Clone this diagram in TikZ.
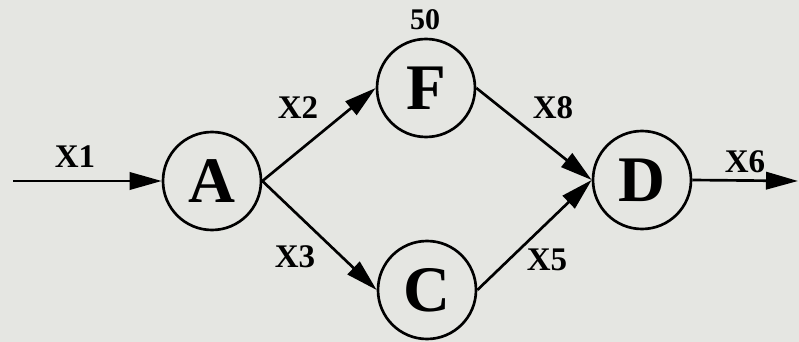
\documentclass[tikz,border=0pt]{standalone}
\usepackage{fontspec}
\setmainfont{Liberation Serif}
\usetikzlibrary{arrows.meta}
\definecolor{paper}{RGB}{229,230,226}
\tikzset{
  unit/.style={circle, draw, line width=2pt, minimum size=73.5pt, inner sep=0pt,
    font=\fontsize{48.75}{50}\selectfont\bfseries},
  flow/.style={line width=2pt, -{Triangle[length=24pt, width=13pt]}},
  tag/.style={inner sep=0pt, font=\fontsize{24.75}{26}\selectfont\bfseries},
  val/.style={inner sep=0pt, font=\fontsize{22.5}{24}\selectfont\bfseries}
}
\begin{document}
\begin{tikzpicture}[x=0.75pt, y=-0.75pt]
  % canvas
  \fill[paper] (0,0) rectangle (799,342);
  \useasboundingbox (0,0) rectangle (799,342);

  % processing units
  \node[unit] (A) at (212,181) {A};
  \node[unit] (F) at (426,88) {F};
  \node[unit] (C) at (427,290) {C};
  \node[unit] (D) at (642,180) {D};

  % free ends of the input and output streams
  \coordinate (in) at (13,181);
  \coordinate (out) at (798,181);

  % streams
  \draw[flow] (in) -- (A.west);
  \draw[flow] (A.east) -- (F.west);
  \draw[flow] (A.east) -- (C.west);
  \draw[flow] (F.east) -- (D.west);
  \draw[flow] (C.east) -- (D.west);
  \draw[flow] (D.east) -- (out);

  % stream labels
  \node[tag] (x1) at (75,157) {X1};
  \node[tag] (x2) at (298,108) {X2};
  \node[tag] (x3) at (295,257) {X3};
  \node[tag] (x8) at (553,108) {X8};
  \node[tag] (x5) at (547,260) {X5};
  \node[tag] (x6) at (745,162) {X6};
  \node[val] (v50) at (425,20) {50};
\end{tikzpicture}
\end{document}
